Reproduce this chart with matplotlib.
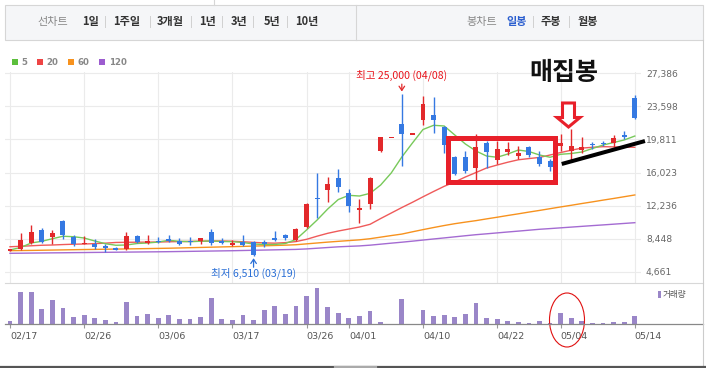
import matplotlib
matplotlib.use("Agg")
import matplotlib.pyplot as plt
from matplotlib.patches import Rectangle, Polygon, Ellipse
import numpy as np

# ===============================
# DATA (daily candles, 2020)
# ===============================
dates = ['02/17', '02/18', '02/19', '02/20', '02/21', '02/24', '02/25', '02/26', '02/27', '02/28',
         '03/02', '03/03', '03/04', '03/05', '03/06', '03/09', '03/10', '03/11', '03/12', '03/13',
         '03/16', '03/17', '03/18', '03/19', '03/20', '03/23', '03/24', '03/25', '03/26', '03/27',
         '03/30', '03/31', '04/01', '04/02', '04/03', '04/06', '04/07', '04/08', '04/09', '04/10',
         '04/13', '04/14', '04/16', '04/17', '04/20', '04/21', '04/22', '04/23', '04/24', '04/27',
         '04/28', '04/29', '05/04', '05/06', '05/07', '05/08', '05/11', '05/12', '05/13', '05/14']

opens = [7050, 7230, 7920, 9410, 8640, 10440, 8610, 7880, 7890, 7610,
         7380, 7270, 8720, 7920, 8200, 8410, 8180, 8180, 8150, 9180,
         8180, 7730, 8070, 8120, 8040, 8490, 8840, 8260, 9790, 13050,
         13990, 15360, 13730, 11730, 12470, 18490, 20060, 21550, 20440, 22090,
         22580, 21200, 17850, 17850, 16540, 19410, 17510, 18340, 17920, 18990,
         17850, 17390, 19110, 18540, 18600, 19290, 19450, 19410, 20370, 24600]
highs = [7280, 9070, 9980, 9640, 9410, 10560, 8840, 8720, 8380, 7840,
         7540, 9180, 8920, 8840, 8610, 8840, 8490, 8610, 8540, 9530,
         8490, 8260, 8840, 8230, 8260, 9300, 9030, 9670, 12550, 16020,
         15480, 16480, 14180, 12960, 15500, 20100, 20060, 25000, 20440, 24800,
         24640, 21300, 17900, 18460, 20400, 19600, 19600, 19490, 19030, 19050,
         18460, 17620, 20480, 20970, 20060, 19490, 19680, 20290, 20750, 24950]
lows = [7020, 7120, 7850, 8000, 7840, 8410, 7610, 7860, 7270, 6930,
        7120, 7200, 7960, 7890, 8000, 8070, 7690, 7750, 7800, 7730,
        7890, 7660, 7660, 6510, 7500, 8180, 8340, 8200, 9700, 10860,
        12650, 13800, 11500, 10250, 11900, 18380, 20060, 16770, 20440, 21510,
        20600, 18260, 15710, 16020, 15060, 16590, 17000, 18080, 17620, 17850,
        16740, 16200, 18490, 17310, 18260, 18680, 19060, 18950, 19870, 22120]
closes = [7250, 8260, 9180, 8070, 9070, 8840, 7840, 7960, 7500, 7380,
          7150, 8720, 8070, 8180, 8070, 8180, 7840, 8070, 8490, 7960,
          7960, 7920, 7730, 6580, 7840, 8300, 8520, 9600, 12470, 12980,
          14760, 14370, 12190, 11960, 15440, 20060, 20060, 20440, 20440, 23840,
          22040, 19180, 15860, 16200, 18990, 18380, 18760, 18760, 18310, 18000,
          17050, 16660, 19410, 19110, 18990, 19140, 19290, 19940, 20090, 22270]

volumes = [90, 970, 970, 460, 730, 490, 220, 280, 190, 130,
           70, 670, 250, 310, 190, 280, 160, 160, 220, 790,
           160, 130, 280, 130, 430, 550, 310, 550, 850, 1090,
           520, 340, 190, 250, 400, 70, 0, 760, 0, 430,
           250, 280, 220, 310, 640, 190, 160, 100, 70, 40,
           100, 40, 340, 190, 100, 40, 40, 70, 70, 250]

ma5 = [7150, 7430, 7950, 8140, 8440, 8720, 8670, 8520, 8180, 7870,
       7690, 7720, 7890, 7950, 8060, 8260, 8140, 8100, 8150, 8180,
       8120, 8100, 8010, 7830, 7780, 7780, 7890, 8350, 9440, 10580,
       11840, 12930, 13410, 13330, 13640, 14590, 15970, 17800, 19400, 20950,
       21430, 21350, 20320, 19290, 18490, 17910, 17770, 18140, 18600, 18430,
       18030, 17770, 18110, 18200, 18370, 18770, 19170, 19460, 19750, 20200]
ma20 = [7520, 7570, 7630, 7690, 7720, 7770, 7810, 7830, 7880, 7930,
        8010, 8030, 8040, 8050, 8060, 8090, 8110, 8130, 8150, 8180,
        8180, 8150, 8090, 8020, 7960, 7930, 7990, 8110, 8370, 8730,
        9060, 9320, 9550, 9780, 10090, 10750, 11380, 12010, 12610, 13240,
        13850, 14440, 14940, 15510, 16020, 16540, 16880, 17200, 17480, 17620,
        17750, 18030, 18310, 18580, 18820, 18910, 18980, 18960, 18930, 18910]
ma60 = [7070, 7085, 7100, 7120, 7140, 7160, 7180, 7200, 7215, 7235,
        7250, 7270, 7290, 7310, 7330, 7350, 7380, 7410, 7440, 7470,
        7500, 7530, 7560, 7595, 7630, 7665, 7700, 7750, 7850, 7950,
        8050, 8140, 8225, 8310, 8440, 8620, 8800, 8970, 9230, 9480,
        9720, 9950, 10160, 10340, 10510, 10710, 10900, 11100, 11290, 11490,
        11680, 11880, 12080, 12270, 12470, 12660, 12860, 13050, 13250, 13450]
ma120 = [6770, 6780, 6795, 6807, 6820, 6830, 6845, 6855, 6870, 6880,
         6893, 6905, 6918, 6930, 6942, 6956, 6974, 6992, 7010, 7028,
         7046, 7064, 7090, 7115, 7140, 7165, 7190, 7215, 7270, 7350,
         7430, 7510, 7565, 7615, 7700, 7815, 7930, 8040, 8160, 8285,
         8410, 8530, 8655, 8780, 8900, 9000, 9105, 9210, 9310, 9415,
         9520, 9600, 9685, 9770, 9855, 9940, 10020, 10105, 10190, 10275]

price_ticks = [27386, 23598, 19811, 16023, 12236, 8448, 4661]
date_ticks = ['02/17', '02/26', '03/06', '03/17', '03/26', '04/01', '04/10', '04/22', '05/04', '05/14']

# ===============================
# STYLE
# ===============================
KR = ['Noto Sans CJK KR', 'DejaVu Sans']
RED = '#e2292b'
BLUE = '#3579e2'
GRID = '#ebebeb'
VOL = '#9a86c8'
MA_COLORS = {'5': '#78c95a', '20': '#ef5a5a', '60': '#f7921e', '120': '#a46bd2'}
LEG_COLORS = {'5': '#5cbf3c', '20': '#ee4444', '60': '#f7921e', '120': '#9c5ccf'}

W, H = 706, 368
fig = plt.figure(figsize=(W / 100, H / 100), dpi=100)
fig.patch.set_facecolor('white')


def frac(x0, y0, x1, y1):
    # pixel box (top-left origin) -> figure fraction rect
    return [x0 / W, 1 - y1 / H, (x1 - x0) / W, (y1 - y0) / H]


idx = np.arange(len(dates))
o, hi, lo, c = map(np.array, (opens, highs, lows, closes))
tick_idx = [dates.index(d) for d in date_ticks]
xlim = (-0.472, 59.585)

# ===============================
# PRICE PANEL
# ===============================
ax = fig.add_axes(frac(5, 72, 641, 283))
ax.set_xlim(*xlim)
ax.set_ylim(3367, 27535)
for s in ax.spines.values():
    s.set_visible(False)
ax.set_xticks(tick_idx)
ax.set_xticklabels([])
ax.set_yticks(price_ticks)
ax.set_yticklabels([f"{v:,}" for v in price_ticks])
ax.yaxis.tick_right()
ax.tick_params(axis='x', length=0)
ax.tick_params(axis='y', length=0, pad=3.6, labelsize=6.6, labelcolor='#666666')
ax.grid(color=GRID, lw=0.8)
ax.set_axisbelow(True)

ax.plot(idx, ma120, color=MA_COLORS['120'], lw=1.0, zorder=2)
ax.plot(idx, ma60, color=MA_COLORS['60'], lw=1.0, zorder=2)
ax.plot(idx, ma20, color=MA_COLORS['20'], lw=1.0, zorder=2)
ax.plot(idx, ma5, color=MA_COLORS['5'], lw=1.0, zorder=2)

col = np.where(c >= o, RED, BLUE)
ax.vlines(idx, lo, hi, colors=col, lw=1.0, zorder=3)
body = np.abs(c - o)
mid = (o + c) / 2
bottom = np.where(body < 150, mid - 75, np.minimum(o, c))
ax.bar(idx, np.maximum(body, 150), bottom=bottom, width=0.47, color=col,
       linewidth=0, zorder=4)

# high / low annotations
imax = int(np.argmax(hi))
imin = int(np.argmin(lo))
arrow = dict(arrowstyle='->,head_length=0.3,head_width=0.2', lw=0.9,
             shrinkA=0, shrinkB=1.9)
ax.annotate('', xy=(imax, hi[imax]), xytext=(0, 7.2), textcoords='offset points',
            arrowprops=dict(arrow, color=RED), annotation_clip=False)
ax.annotate(f"최고 {hi[imax]:,} ({dates[imax]})", xy=(imax, hi[imax]),
            xytext=(0, 13.3), textcoords='offset points', ha='center', va='center',
            fontsize=7.6, color='#e8141c', family=KR, annotation_clip=False)
ax.annotate('', xy=(imin, lo[imin]), xytext=(0, -8.4), textcoords='offset points',
            arrowprops=dict(arrow, color='#2a6fd6'), annotation_clip=False)
ax.annotate(f"최저 {lo[imin]:,} ({dates[imin]})", xy=(imin, lo[imin]),
            xytext=(0, -13.0), textcoords='offset points', ha='center', va='center',
            fontsize=7.6, color='#2a6fd6', family=KR, annotation_clip=False)

# highlight box and support line
ax.add_patch(Rectangle((41.4, 14900), 10.1, 5020, fill=False, edgecolor='#e8202a',
                       lw=3.6, joinstyle='miter', zorder=6, clip_on=False))
ax.plot([52.1, 59.96], [17000, 19630], color='black', lw=2.9,
        solid_capstyle='butt', zorder=7, clip_on=False)

# ===============================
# VOLUME PANEL
# ===============================
vax = fig.add_axes(frac(5, 283, 641, 324.3))
vax.set_xlim(*xlim)
vax.set_ylim(0, max(volumes) * 41.3 / 36.3)
for s in vax.spines.values():
    s.set_visible(False)
vax.bar(idx, volumes, width=0.45, color=VOL, linewidth=0)
vax.set_yticks([])
vax.set_xticks(tick_idx)
vax.set_xticklabels(date_ticks)
vax.tick_params(axis='x', length=3.2, width=0.8, color='#999999', pad=2.2,
                labelsize=6.8, labelcolor='#555555')
for lab in vax.get_xticklabels():
    lab.set_ha('left')

# ===============================
# OVERLAY (frame, tabs, notes)
# ===============================
ov = fig.add_axes([0, 0, 1, 1], zorder=10)
ov.set_xlim(0, W)
ov.set_ylim(H, 0)
ov.axis('off')
ov.patch.set_alpha(0)

# tab bar
ov.add_patch(Rectangle((5, 5.4), 698, 34.2, facecolor='#f5f6f8', edgecolor='#d6d6d6', lw=0.8))
ov.plot([356, 356], [5.4, 39.6], color='#d6d6d6', lw=0.8)
ov.plot([214, 214], [0, 5.4], color='#d6d6d6', lw=0.8)

tabs_left = [('선차트', 37, '#888888', 'normal'), ('1일', 82, '#333333', 'bold'),
             ('1주일', 113.5, '#333333', 'bold'), ('3개월', 157, '#333333', 'bold'),
             ('1년', 199.5, '#333333', 'bold'), ('3년', 230.6, '#333333', 'bold'),
             ('5년', 263.5, '#333333', 'bold'), ('10년', 295, '#333333', 'bold'),
             ('봉차트', 466, '#888888', 'normal'), ('일봉', 506, '#2c5fcf', 'bold'),
             ('주봉', 541, '#333333', 'bold'), ('월봉', 578, '#333333', 'bold')]
for txt, x, color, weight in tabs_left:
    ov.text(x, 21.5, txt, fontsize=8, color=color, fontweight=weight, family=KR,
            ha='left', va='center')
for x in [104.5, 150, 191, 222, 253, 287, 533, 569]:
    ov.plot([x, x], [16, 27], color='#d0d0d0', lw=0.7)

# moving-average legend
for name, x_sq, x_tx in [('5', 12, 21.5), ('20', 37, 46.5), ('60', 68, 77), ('120', 99, 109)]:
    ov.add_patch(Rectangle((x_sq, 59.3), 6, 6, color=LEG_COLORS[name], lw=0))
    ov.text(x_tx, 62.5, name, fontsize=6.2, fontweight='bold', color='#888888',
            ha='left', va='center')

# panel separators and frame
ov.plot([5, 703], [282.5, 282.5], color='#d8d8d8', lw=0.8)
ov.plot([5, 703], [324.3, 324.3], color='#888888', lw=0.9)
ov.plot([703, 703], [39.6, 366], color='#cccccc', lw=0.8)
ov.plot([0, 706], [366.5, 366.5], color='#555555', lw=1.6)
ov.plot([335, 376], [366.5, 366.5], color='#aaaaaa', lw=1.6)

# volume legend
ov.add_patch(Rectangle((658, 291), 3.3, 7, color=VOL, lw=0))
ov.text(663, 294.7, '거래량', fontsize=6.2, color='#555555', family=KR, ha='left', va='center')

# notes
ov.text(564, 73.5, '매집봉', fontsize=18, fontweight='bold', color='#111111', family=KR,
        ha='center', va='center')
ov.add_patch(Polygon([(562.5, 103), (574.5, 103), (574.5, 117.5), (580, 117.5),
                      (568.5, 127), (557, 117.5), (562.5, 117.5)], closed=True,
                     facecolor='white', edgecolor='#e8202a', lw=2.2, joinstyle='miter'))
ov.add_patch(Ellipse((567, 320), 35, 54, fill=False, edgecolor='#e01010', lw=0.8))

fig.savefig('out.png', dpi=100)
